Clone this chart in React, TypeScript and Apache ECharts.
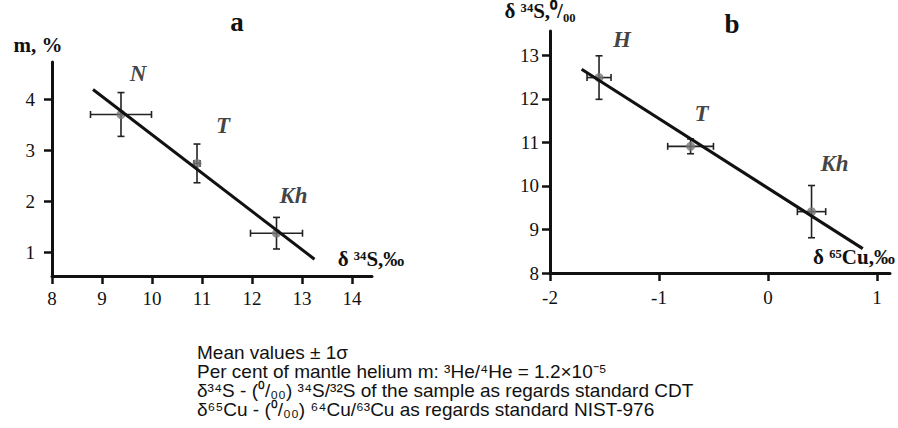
import React, { useEffect, useRef } from "react";
import * as echarts from "echarts";

// ---- Panel a: m (%) vs δ34S (‰)
const aNames = ["N", "T", "Kh"];
const aX = [9.38, 10.9, 12.49];
const aY = [3.7, 2.74, 1.37];
const aXErr = [0.61, 0.06, 0.52];
const aYErr = [0.43, 0.38, 0.31];
const aFitX = [8.82, 13.25];
const aFitY = [4.19, 0.86];
const aXTicks = [8, 9, 10, 11, 12, 13, 14];
const aYTicks = [1, 2, 3, 4];

// ---- Panel b: δ34S (‰) vs δ65Cu (‰)
const bNames = ["H", "T", "Kh"];
const bX = [-1.55, -0.71, 0.4];
const bY = [12.49, 10.91, 9.41];
const bXErr = [0.11, 0.21, 0.13];
const bYErr = [0.5, 0.17, 0.6];
const bFitX = [-1.71, 0.87];
const bFitY = [12.68, 8.56];
const bXTicks = [-2, -1, 0, 1];
const bYTicks = [8, 9, 10, 11, 12, 13];

// texts
const noteLines = [
  "Mean values ± 1σ",
  "Per cent of mantle helium m: ³He/⁴He = 1.2×10⁻⁵",
  "δ³⁴S - (⁰/₀₀) ³⁴S/³²S of the sample as regards standard CDT",
  "δ⁶⁵Cu - (⁰/₀₀) ⁶⁴Cu/⁶³Cu as regards standard NIST-976",
];

// label offsets (layout, px)
const aLabelOffsets = [[17, -41], [26, -38], [17, -38]];
const bLabelOffsets = [[23, -38], [11, -33], [23, -48]];
const noteY = [352, 371, 390, 409];

const SERIF = "Liberation Serif";
const SANS = "Liberation Sans";
const INK = "#111111";

function errRender(params: any, api: any) {
  const x = api.value(0);
  const y = api.value(1);
  const ex = api.value(2);
  const ey = api.value(3);
  const cap = 3.5;
  const children: any[] = [];
  const ln = (x1: number, y1: number, x2: number, y2: number) => ({
    type: "line",
    shape: { x1, y1, x2, y2 },
    style: { stroke: "#222222", lineWidth: 1.6 },
  });
  if (ex > 0) {
    const l = api.coord([x - ex, y]);
    const r = api.coord([x + ex, y]);
    children.push(ln(l[0], l[1], r[0], r[1]));
    children.push(ln(l[0], l[1] - cap, l[0], l[1] + cap));
    children.push(ln(r[0], r[1] - cap, r[0], r[1] + cap));
  }
  if (ey > 0) {
    const t = api.coord([x, y + ey]);
    const b = api.coord([x, y - ey]);
    children.push(ln(t[0], t[1], b[0], b[1]));
    children.push(ln(t[0] - cap, t[1], t[0] + cap, t[1]));
    children.push(ln(b[0] - cap, b[1], b[0] + cap, b[1]));
  }
  return { type: "group", children };
}

function axisOpt(gridIndex: number, min: number, max: number, ticks: number[], margin: number) {
  return {
    type: "value",
    gridIndex,
    min,
    max,
    axisLine: { show: true, onZero: false, lineStyle: { color: INK, width: 3 } },
    axisTick: { show: true, length: 8, customValues: ticks, lineStyle: { color: INK, width: 2.5 } },
    axisLabel: { show: true, customValues: ticks, color: INK, fontSize: 19, fontFamily: SERIF, margin },
    splitLine: { show: false },
  };
}

function panelSeries(
  idx: number,
  names: string[],
  xs: number[],
  ys: number[],
  xe: number[],
  ye: number[],
  fx: number[],
  fy: number[],
  offsets: number[][]
) {
  return [
    {
      type: "custom",
      xAxisIndex: idx,
      yAxisIndex: idx,
      renderItem: errRender,
      data: xs.map((x, i) => [x, ys[i], xe[i], ye[i]]),
    },
    {
      type: "line",
      xAxisIndex: idx,
      yAxisIndex: idx,
      data: fx.map((x, i) => [x, fy[i]]),
      symbol: "none",
      lineStyle: { color: INK, width: 3 },
    },
    {
      type: "scatter",
      xAxisIndex: idx,
      yAxisIndex: idx,
      symbolSize: 9,
      itemStyle: { color: "#777777" },
      data: xs.map((x, i) => ({
        value: [x, ys[i]],
        label: {
          show: true,
          position: "inside",
          offset: offsets[i],
          formatter: names[i],
          fontFamily: SERIF,
          fontSize: 23,
          fontWeight: "bold",
          fontStyle: "italic",
          color: INK,
        },
      })),
    },
  ];
}

function txt(text: string, x: number, y: number, family: string, size: number, weight: string, align: string) {
  return {
    type: "text",
    x,
    y,
    style: { text, fontFamily: family, fontSize: size, fontWeight: weight, fill: INK, align, verticalAlign: "middle" },
  };
}

export default function App() {
  const ref = useRef<HTMLDivElement>(null);
  useEffect(() => {
    const chart = echarts.init(ref.current!, null, { renderer: "svg" });
    chart.setOption({
      animation: false,
      grid: [
        { left: 52, top: 62, width: 320, height: 214 },
        { left: 550, top: 31, width: 340, height: 242 },
      ],
      xAxis: [axisOpt(0, 8, 14.4, aXTicks, 13), axisOpt(1, -2, 1.12, bXTicks, 15)],
      yAxis: [axisOpt(0, 0.53, 4.73, aYTicks, 17), axisOpt(1, 8, 13.56, bYTicks, 11)],
      series: [
        ...panelSeries(0, aNames, aX, aY, aXErr, aYErr, aFitX, aFitY, aLabelOffsets),
        ...panelSeries(1, bNames, bX, bY, bXErr, bYErr, bFitX, bFitY, bLabelOffsets),
      ],
      graphic: [
        txt("a", 237, 22, SERIF, 27, "bold", "center"),
        txt("b", 732, 24, SERIF, 27, "bold", "center"),
        txt("m, %", 38, 45, SERIF, 21, "bold", "center"),
        txt("δ ³⁴S,‰", 371, 259, SERIF, 21, "bold", "center"),
        txt("δ ³⁴S,⁰/₀₀", 540, 11, SERIF, 21, "bold", "center"),
        txt("δ ⁶⁵Cu,‰", 854, 257, SERIF, 21, "bold", "center"),
        ...noteLines.map((t, i) => txt(t, 197, noteY[i], SANS, 19, "normal", "left")),
      ],
    } as any);
    return () => chart.dispose();
  }, []);
  return (
    <div style={{ position: "absolute", left: 0, top: 0, width: 898, height: 428, background: "#fff" }}>
      <div ref={ref} style={{ position: "absolute", left: 0, top: 0, width: 898, height: 428 }} />
    </div>
  );
}
